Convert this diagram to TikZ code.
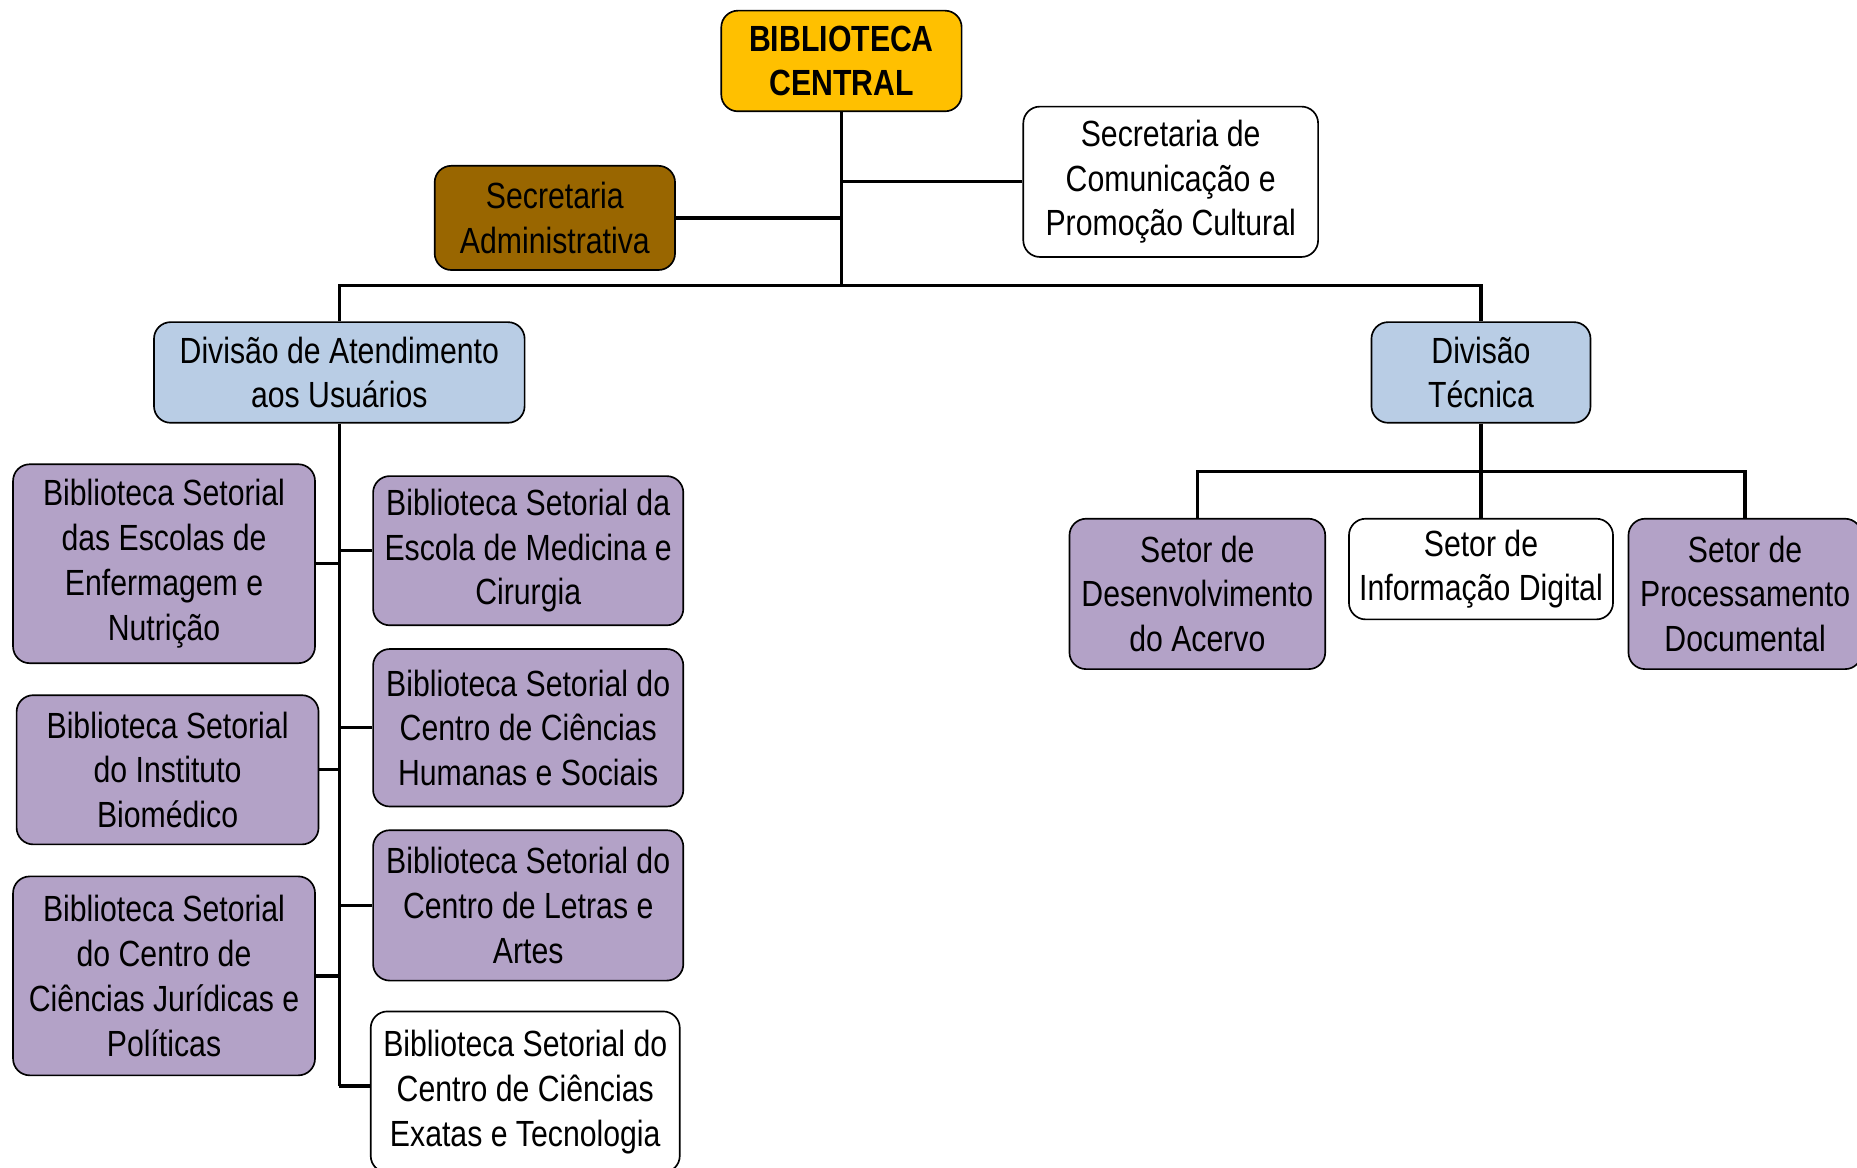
\documentclass[tikz,border=0pt]{standalone}
\usepackage{fontspec}
\setmainfont{Liberation Sans}[FakeStretch=0.83]
\usepackage{xcolor}
\definecolor{libgold}{RGB}{255,192,0}
\definecolor{libbrown}{RGB}{153,102,0}
\definecolor{libpurple}{RGB}{179,162,199}
\definecolor{libblue}{RGB}{185,205,229}
\usepackage{tikz}
\tikzstyle{unit} = [rectangle, draw, rounded corners=8pt, line width=0.8pt,
  align=center, inner sep=2pt, font=\fontsize{17.5}{21.5}\selectfont]
\tikzstyle{setorial} = [unit, fill=libpurple]
\tikzstyle{divisao} = [unit, fill=libblue]
\tikzstyle{link} = [draw, line width=1.6pt]

\begin{document}
\begin{tikzpicture}[x=0.02cm, y=-0.02cm]
  \path[use as bounding box, clip] (0,0) rectangle (1568,986);

  % topo
  \node[unit, fill=libgold, font=\fontsize{17.5}{21.5}\selectfont\bfseries,
    minimum width=4.06cm, minimum height=1.7cm] (central) at (710.5,51.5) {BIBLIOTECA\\CENTRAL};
  \node[unit, fill=libbrown, minimum width=4.06cm, minimum height=1.76cm] (secadm) at (468.5,184) {Secretaria\\Administrativa};
  \node[unit, fill=white, minimum width=4.98cm, minimum height=2.54cm] (seccom) at (988.5,153.5) {Secretaria de\\Comunicação e\\Promoção Cultural};

  % divisoes
  \node[divisao, minimum width=6.26cm, minimum height=1.7cm] (divat) at (286.5,314.5) {Divisão de Atendimento\\aos Usuários};
  \node[divisao, minimum width=3.7cm, minimum height=1.7cm] (divtec) at (1250.5,314.5) {Divisão\\Técnica};

  % bibliotecas setoriais
  \node[setorial, minimum width=5.1cm, minimum height=3.36cm] (bsenf) at (138.5,476) {Biblioteca Setorial\\das Escolas de\\Enfermagem e\\Nutrição};
  \node[setorial, minimum width=5.1cm, minimum height=2.52cm] (bsbio) at (141.5,650) {Biblioteca Setorial\\do Instituto\\Biomédico};
  \node[setorial, minimum width=5.1cm, minimum height=3.36cm] (bsjur) at (138.5,824) {Biblioteca Setorial\\do Centro de\\Ciências Jurídicas e\\Políticas};
  \node[setorial, minimum width=5.24cm, minimum height=2.52cm] (bsmed) at (446,465) {Biblioteca Setorial da\\Escola de Medicina e\\Cirurgia};
  \node[setorial, minimum width=5.24cm, minimum height=2.66cm] (bschs) at (446,614.5) {Biblioteca Setorial do\\Centro de Ciências\\Humanas e Sociais};
  \node[setorial, minimum width=5.24cm, minimum height=2.54cm] (bscla) at (446,764.5) {Biblioteca Setorial do\\Centro de Letras e\\Artes};
  \node[unit, fill=white, minimum width=5.22cm, minimum height=2.72cm] (bscet) at (443.5,922) {Biblioteca Setorial do\\Centro de Ciências\\Exatas e Tecnologia};

  % setores
  \node[setorial, minimum width=4.32cm, minimum height=2.54cm] (setdes) at (1011,501.5) {Setor de\\Desenvolvimento\\do Acervo};
  \node[unit, fill=white, minimum width=4.46cm, minimum height=1.7cm] (setinf) at (1250.5,480.5) {Setor de\\Informação Digital};
  \node[setorial, minimum width=3.94cm, minimum height=2.54cm] (setproc) at (1473.5,501.5) {Setor de\\Processamento\\Documental};

  \coordinate (hub) at (710.5,241);
  \coordinate (atend) at (286.5,917);
  \coordinate (tecbar) at (1250.5,398);

  \path[link] (central.south) -- (hub);
  \path[link] (seccom.west) -- (seccom.west -| hub);
  \path[link] (secadm.east) -- (secadm.east -| hub);
  \path[link] (divat.north) |- (hub) -| (divtec.north);

  \path[link] (divat.south) -- (atend);
  \path[link] (bsenf.east) -- (bsenf.east -| atend);
  \path[link] (bsbio.east) -- (bsbio.east -| atend);
  \path[link] (bsjur.east) -- (bsjur.east -| atend);
  \path[link] (bsmed.west) -- (bsmed.west -| atend);
  \path[link] (bschs.west) -- (bschs.west -| atend);
  \path[link] (bscla.west) -- (bscla.west -| atend);
  \path[link] (bscet.west |- atend) -- (atend);

  \path[link] (divtec.south) -- (tecbar);
  \path[link] (setdes.north) |- (tecbar) -| (setproc.north);
  \path[link] (setinf.north) -- (tecbar);
\end{tikzpicture}
\end{document}
